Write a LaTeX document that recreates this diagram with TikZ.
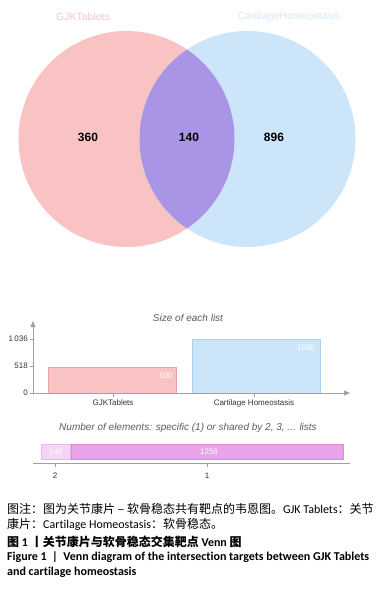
\documentclass[tikz,border=0pt]{standalone}
\usepackage{fontspec}
\setmainfont{Liberation Sans}
\newfontfamily\cjk{Noto Sans CJK SC}
\newfontfamily\carl[Ligatures=NoCommon]{Carlito}
\usetikzlibrary{arrows.meta}
\definecolor{pinkc}{HTML}{F9C3C3}
\definecolor{bluec}{HTML}{CDE5F9}
\definecolor{purc}{HTML}{A994E6}
\definecolor{pinklab}{HTML}{F3C9C9}
\definecolor{bluelab}{HTML}{D6E8F8}
\definecolor{pinkbd}{HTML}{EBA3A3}
\definecolor{bluebd}{HTML}{A9D1F2}
\definecolor{axisc}{HTML}{A0A0A0}
\definecolor{lilac}{HTML}{F5D5F5}
\definecolor{lilacbd}{HTML}{EAB8EA}
\definecolor{magc}{HTML}{E9A3E9}
\definecolor{magbd}{HTML}{D98CD9}
\definecolor{txtc}{HTML}{333333}
\begin{document}
\begin{tikzpicture}[x=1pt,y=-1pt,
  setlab/.style={font=\fontsize{10.5}{12}\selectfont, inner sep=0pt},
  countlab/.style={font=\fontsize{12}{14}\selectfont\bfseries, text=black, inner sep=0pt},
  charttitle/.style={font=\fontsize{10}{12}\selectfont\itshape, text=txtc!80, inner sep=0pt},
  ticklab/.style={font=\fontsize{8}{10}\selectfont, text=txtc, inner sep=0pt},
  barlab/.style={font=\fontsize{8}{10}\selectfont, text=white, inner sep=0pt},
  axisline/.style={draw=axisc, line width=0.8pt},
  axisarrow/.style={axisline, -{Triangle[width=5pt,length=6pt]}},
  capline/.style={anchor=west, inner sep=0pt, font=\fontsize{12}{14}\selectfont}
]
\useasboundingbox[fill=white] (0,0) rectangle (387,591);

% ---------- Venn ----------
\coordinate (A) at (126.5,139);
\coordinate (B) at (247.5,139);
\fill[pinkc] (A) circle (108pt);
\fill[bluec] (B) circle (108pt);
\begin{scope}
  \clip (A) circle (108pt);
  \fill[purc] (B) circle (108pt);
\end{scope}
\node[setlab, text=pinklab] (labA) at (83,17) {GJKTablets};
\node[setlab, text=bluelab] (labB) at (289,17) {CartilageHomeostasis};
\node[countlab] (n360) at (88,137) {360};
\node[countlab] (n140) at (189,137) {140};
\node[countlab] (n896) at (274,137) {896};

% ---------- Size of each list ----------
\node[charttitle] (t1) at (188,318) {Size of each list};
\coordinate (o) at (33,393);
\coordinate (ytop) at (33,321);
\coordinate (xend) at (350,393);
\fill[pinkc] (48,367) rectangle (176,393);
\draw[pinkbd, line width=0.7pt] (48,393) -- (48,367) -- (176,367) -- (176,393);
\fill[bluec] (192,339) rectangle (320,393);
\draw[bluebd, line width=0.7pt] (192,393) -- (192,339) -- (320,339) -- (320,393);
\draw[axisarrow] (o) -- (ytop);
\draw[axisarrow] (o) -- (xend);
\foreach \yy/\tt/\nm in {393/0/y0, 366/518/y1, 339/{1\,036}/y2}{
  \draw[axisline, line width=0.6pt] (30,\yy) -- (33,\yy);
  \node[ticklab, anchor=east] (\nm) at (28,\yy) {\tt};
}
\draw[axisline, line width=0.6pt] (113,393) -- (113,397);
\draw[axisline, line width=0.6pt] (254,393) -- (254,397);
\node[ticklab] (c1) at (113,403) {GJKTablets};
\node[ticklab] (c2) at (254,403) {Cartilage Homeostasis};
\node[barlab] (v500) at (166,376) {500};
\node[barlab] (v1036) at (306,348) {1036};

% ---------- Number of elements ----------
\node[charttitle] (t2) at (188,428) {Number of elements: specific (1) or shared by 2, 3, ... lists};
\fill[lilac] (41,444) rectangle (70,459);
\draw[lilacbd, line width=0.6pt] (41,444) rectangle (70,459);
\fill[magc] (71.5,444) rectangle (343,459);
\draw[magbd, line width=0.6pt] (71.5,444) rectangle (343,459);
\node[barlab] (v140) at (55.5,451.5) {140};
\node[barlab] (v1256) at (209,451.5) {1256};
\draw[axisline] (33,463) -- (350,463);
\draw[axisline, line width=0.6pt] (55,463) -- (55,467);
\draw[axisline, line width=0.6pt] (207,463) -- (207,467);
\node[ticklab] (k2) at (55,476) {2};
\node[ticklab] (k1) at (207,476) {1};

% ---------- Caption ----------
\node[capline] (cap1) at (7,509) {{\cjk 图注：图为关节康片 – 软骨稳态共有靶点的韦恩图。}{\carl GJK Tablets}{\cjk ：关节}};
\node[capline] (cap2) at (7,524) {{\cjk 康片：}{\carl Cartilage Homeostasis}{\cjk ：软骨稳态。}};
\node[capline] (cap3) at (7,542) {{\cjk\bfseries 图 }{\carl\bfseries 1}{\cjk\bfseries \ 丨关节康片与软骨稳态交集靶点 }{\carl\bfseries Venn}{\cjk\bfseries \ 图}};
\node[capline] (cap4) at (7,557) {\carl\bfseries Figure 1 \ | \ Venn diagram of the intersection targets between GJK Tablets};
\node[capline] (cap5) at (7,572) {\carl\bfseries and cartilage homeostasis};
\end{tikzpicture}
\end{document}
